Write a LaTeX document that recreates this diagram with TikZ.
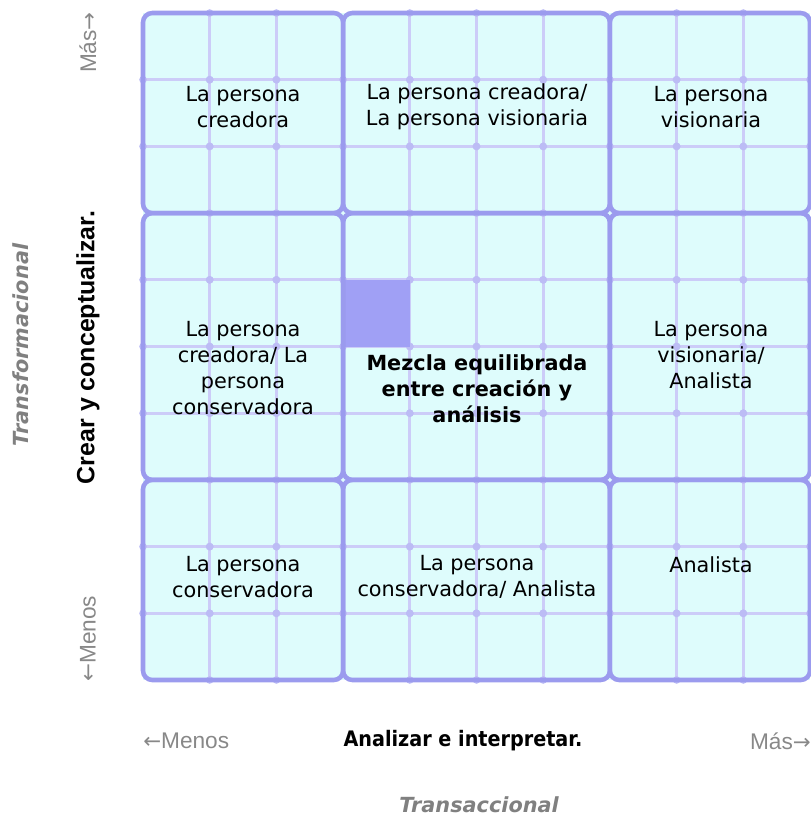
\documentclass[tikz,border=0pt]{standalone}
\usepackage{fontspec}
\setmainfont{DejaVu Sans}
\newfontfamily\arialf{Liberation Sans}
\definecolor{cellfill}{RGB}{222,252,252}
\definecolor{thickc}{RGB}{155,155,238}
\definecolor{thinc}{RGB}{204,204,248}
\definecolor{dotc}{RGB}{188,188,245}
\definecolor{markc}{RGB}{160,160,245}
\definecolor{greyt}{RGB}{128,128,128}
\definecolor{lightt}{RGB}{136,136,136}
\begin{document}
\begin{tikzpicture}[x=0.75pt,y=-0.75pt,
  celltext/.style={align=center,font=\fontsize{15.6}{19.5}\selectfont,inner sep=0pt,text=black},
  boldtext/.style={align=center,font=\bfseries\fontsize{15.6}{19.5}\selectfont,inner sep=0pt,text=black},
  axistitle/.style={font=\arialf\bfseries\fontsize{18.7}{22}\selectfont,inner sep=0pt,text=black},
  axisbold/.style={font=\bfseries\fontsize{16}{19.5}\selectfont,inner sep=0pt,text=black},
  sidetitle/.style={font=\bfseries\itshape\fontsize{15.6}{19.5}\selectfont,inner sep=0pt,text=greyt},
  rangelabel/.style={font=\arialf\fontsize{17}{20}\selectfont,inner sep=0pt,text=lightt},
  thinline/.style={draw=thinc,line width=2pt},
  bigbox/.style={draw=thickc,line width=3.4pt,rounded corners=7pt},
  gdot/.style={fill=dotc,draw=none}
]
\useasboundingbox (0,0) rectangle (811,819);
\def\gx#1{143+#1*66.7}
\def\gy#1{13+#1*66.7}
\newcommand{\lar}{{\rmfamily\fontsize{16}{20}\selectfont ←}}
\newcommand{\rar}{{\rmfamily\fontsize{16}{20}\selectfont →}}
% background
\fill[cellfill] ({\gx{0}},{\gy{0}}) rectangle ({\gx{10}},{\gy{10}});
% thin lines
\foreach \i in {1,2,4,5,6,8,9} {
  \draw[thinline] ({\gx{\i}},{\gy{0}}) -- ({\gx{\i}},{\gy{10}});
  \draw[thinline] ({\gx{0}},{\gy{\i}}) -- ({\gx{10}},{\gy{\i}});
}
% dots at intersections
\foreach \i in {0,...,10} {
  \foreach \j in {1,2,4,5,6,8,9} {
    \fill[gdot] ({\gx{\i}},{\gy{\j}}) circle (3.8);
    \fill[gdot] ({\gx{\j}},{\gy{\i}}) circle (3.8);
  }
}
% highlighted cell
\fill[markc] ({\gx{3}},{\gy{4}}) rectangle ({\gx{4}},{\gy{5}});
% big blocks
\foreach \xa/\xb in {0/3,3/7,7/10} {
  \foreach \ya/\yb in {0/3,3/7,7/10} {
    \draw[bigbox] ({\gx{\xa}},{\gy{\ya}}) rectangle ({\gx{\xb}},{\gy{\yb}});
  }
}
% cell texts
\node[celltext] (c11) at (243,107) {La persona\\creadora};
\node[celltext] (c12) at (477,107) {La persona creadora/\\La persona visionaria};
\node[celltext] (c13) at (711,107) {La persona\\visionaria};
\node[celltext] (c21) at (243,368) {La persona\\creadora/ La\\persona\\conservadora};
\node[boldtext] (c22) at (477,389) {Mezcla equilibrada\\entre creación y\\análisis};
\node[celltext] (c23) at (711,355) {La persona\\visionaria/\\Analista};
\node[celltext] (c31) at (243,577) {La persona\\conservadora};
\node[celltext] (c32) at (477,577) {La persona\\conservadora/ Analista};
\node[celltext] (c33) at (711,565) {Analista};
% axis labels
\node[rangelabel,anchor=west] (xmin) at (143,741) {\lar Menos};
\node[rangelabel,anchor=east] (xmax) at (811,741) {Más\rar};
\node[axisbold] (xtitle) at (463,741) {\scalebox{0.9}[1]{Analizar e interpretar.}};
\node[sidetitle] (xside) at (479,805) {Transaccional};
\node[rangelabel,rotate=90,anchor=west] (ymin) at (88,682) {\lar Menos};
\node[rangelabel,rotate=90,anchor=east] (ymax) at (88,12) {Más\rar};
\node[axistitle,rotate=90] (ytitle) at (88,347.5) {Crear y conceptualizar.};
\node[sidetitle,rotate=90] (yside) at (21,345) {Transformacional};
\end{tikzpicture}
\end{document}
